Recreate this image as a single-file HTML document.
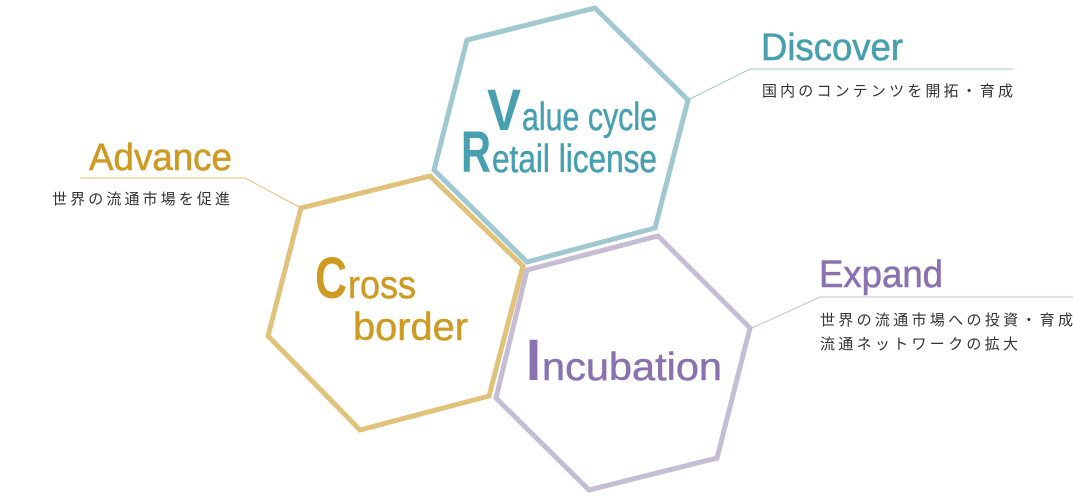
<!DOCTYPE html>
<html><head><meta charset="utf-8"><style>
html,body{margin:0;padding:0;background:#fff;}
svg{display:block;}
text{font-family:"Liberation Sans Narrow","Liberation Sans",sans-serif;}
.jp{font-family:"Liberation Sans","Noto Sans CJK JP",sans-serif;font-size:15px;fill:#333;}
</style></head><body>
<svg width="1073" height="498" viewBox="0 0 1073 498" xmlns="http://www.w3.org/2000/svg">
<polygon points="467,40 595,8 688,100 655,228 527,262 434,170" fill="none" stroke="#a0c8d0" stroke-width="5"/>
<polygon points="301,208 430,176 523,266 489,396 360,430 268,336" fill="none" stroke="#e0c27a" stroke-width="5"/>
<polygon points="527,270 658,236 750,328 717,458 589,490 496,398" fill="none" stroke="#c6bdd5" stroke-width="5"/>
<polyline points="688,100 750,69 1013,69" fill="none" stroke="#a0c8d0" stroke-width="1"/>
<polyline points="752,328 820,297 1073,297" fill="none" stroke="#c6bdd5" stroke-width="1"/>
<polyline points="301,208 245,178 80,178" fill="none" stroke="#e0c27a" stroke-width="1"/>
<text x="761" y="60" font-size="38" fill="#46a0b0" stroke="#46a0b0" stroke-width="0.6" textLength="142" lengthAdjust="spacingAndGlyphs">Discover</text>
<text x="762" y="96" class="jp" textLength="251">国内のコンテンツを開拓・育成</text>
<text x="819" y="287" font-size="38" fill="#8a72b0" stroke="#8a72b0" stroke-width="0.6" textLength="124" lengthAdjust="spacingAndGlyphs">Expand</text>
<text x="820" y="325" class="jp" textLength="253">世界の流通市場への投資・育成</text>
<text x="820" y="349" class="jp" textLength="198">流通ネットワークの拡大</text>
<text x="89" y="170" font-size="38" fill="#cf9a22" stroke="#cf9a22" stroke-width="0.6" textLength="143" lengthAdjust="spacingAndGlyphs">Advance</text>
<text x="52" y="204" class="jp" textLength="178">世界の流通市場を促進</text>
<text x="487" y="130" font-size="58" font-weight="bold" fill="#46a0b0" textLength="34" lengthAdjust="spacingAndGlyphs">V</text>
<text x="522" y="130" font-size="39" fill="#46a0b0" stroke="#46a0b0" stroke-width="0.5" textLength="135" lengthAdjust="spacingAndGlyphs">alue cycle</text>
<text x="461" y="172" font-size="58" font-weight="bold" fill="#46a0b0" textLength="30" lengthAdjust="spacingAndGlyphs">R</text>
<text x="492" y="172" font-size="39" fill="#46a0b0" stroke="#46a0b0" stroke-width="0.5" textLength="165" lengthAdjust="spacingAndGlyphs">etail license</text>
<text x="315" y="298" font-size="58" font-weight="bold" fill="#cf9a22" textLength="32" lengthAdjust="spacingAndGlyphs">C</text>
<text x="348" y="298" font-size="39" fill="#cf9a22" stroke="#cf9a22" stroke-width="0.5" textLength="68" lengthAdjust="spacingAndGlyphs">ross</text>
<text x="353" y="340" font-size="39" fill="#cf9a22" stroke="#cf9a22" stroke-width="0.5" textLength="115" lengthAdjust="spacingAndGlyphs">border</text>
<text x="526" y="380" font-size="58" font-weight="bold" fill="#8a72b0" textLength="15" lengthAdjust="spacingAndGlyphs">I</text>
<text x="542" y="380" font-size="39" fill="#8a72b0" stroke="#8a72b0" stroke-width="0.5" textLength="180" lengthAdjust="spacingAndGlyphs">ncubation</text>
</svg>
</body></html>
